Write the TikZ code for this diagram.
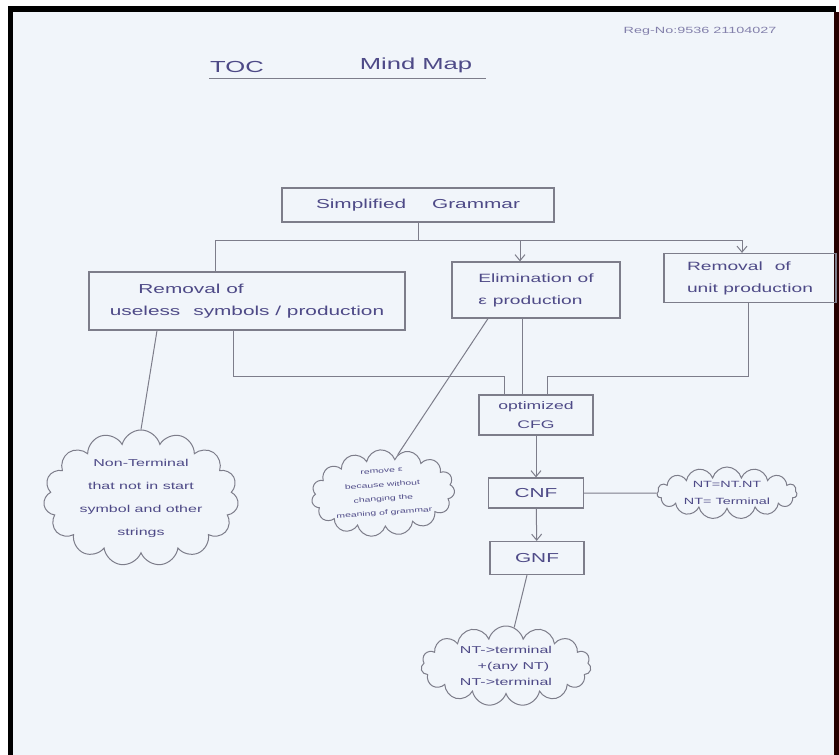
\documentclass[tikz,border=0pt]{standalone}
\usepackage{fontspec}
\newfontfamily\hand[FakeStretch=1.6]{Liberation Sans}
\usetikzlibrary{shapes.symbols,arrows.meta}
\definecolor{ink}{RGB}{78,74,135}
\definecolor{pencil}{RGB}{125,125,138}
\definecolor{paper}{RGB}{241,245,250}
\tikzset{
  box/.style={draw=pencil, line width=1.2pt, inner sep=0pt, text=ink,
    font=\hand\fontsize{13}{22}\selectfont},
  bubble/.style={cloud, cloud puffs=15, cloud ignores aspect, draw=pencil,
    line width=1pt, text=ink, align=center, inner sep=0pt},
  link/.style={draw=pencil, line width=1pt},
  flow/.style={link, -{Straight Barb[length=6pt,width=10pt]}},
}
\begin{document}
\begin{tikzpicture}[x=1pt, y=-1pt]
% sheet and photo frame
\fill[white] (0,0) rectangle (839,755);
\fill[paper] (13,12) rectangle (834,755);
\fill[black] (8,6) rectangle (13,755);
\fill[black] (8,6) rectangle (836,12);
\fill[black!75!red!60!black] (834,12) rectangle (839,755);
\useasboundingbox (0,0) rectangle (839,755);

% header
\node[text=ink!70, font=\hand\fontsize{9}{10}\selectfont] (regno) at (700,31) {Reg-No:9536 21104027};
\node[text=ink, font=\hand\fontsize{16}{18}\selectfont] (toc) at (237,67) {TOC};
\node[text=ink, font=\hand\fontsize{16}{18}\selectfont] (mindmap) at (416,65) {Mind Map};
\draw[link] (209,78) -- (486,78);

% boxes
\node[box, minimum width=272pt, minimum height=34pt] (sg) at (418,205) {Simplified\qquad Grammar};
\node[box, minimum width=316pt, minimum height=58pt, align=left] (useless) at (247,301)
  {\hspace{2.2em}Removal of\\useless\quad symbols / production};
\node[box, minimum width=168pt, minimum height=56pt, align=left,
  font=\hand\fontsize{12}{22}\selectfont] (elim) at (536,290)
  {Elimination of\\ε\enspace production};
\node[box, minimum width=172pt, minimum height=49pt, align=left,
  font=\hand\fontsize{12}{22}\selectfont] (unit) at (750,278)
  {Removal\quad of\\unit production};
\node[box, minimum width=114pt, minimum height=40pt, align=center,
  font=\hand\fontsize{11}{19}\selectfont] (opt) at (536,415) {optimized\\CFG};
\node[box, minimum width=95pt, minimum height=30pt] (cnf) at (536,493) {CNF};
\node[box, minimum width=94pt, minimum height=33pt] (gnf) at (537,558) {GNF};

% clouds
\node[bubble, minimum width=195pt, minimum height=115pt,
  font=\hand\fontsize{10}{23}\selectfont] (nonterm) at (141,498)
  {Non-Terminal\\that not in start\\symbol and other\\strings};
\node[bubble, minimum width=138pt, minimum height=82pt, rotate=4,
  font=\hand\fontsize{6.5}{14}\selectfont] (epsnote) at (383,493)
  {remove ε\\because without\\changing the\\meaning of grammar};
\node[bubble, minimum width=140pt, minimum height=52pt,
  font=\hand\fontsize{9}{17}\selectfont] (cnfnote) at (727,493)
  {NT=NT.NT\\NT= Terminal};
\node[bubble, minimum width=170pt, minimum height=80pt,
  font=\hand\fontsize{10}{16}\selectfont] (gnfnote) at (506,666)
  {NT->terminal\\\hspace{1.5em}+(any NT)\\NT->terminal};

% branching from the root
\coordinate (barL) at (215,240);
\coordinate (barM) at (520,240);
\coordinate (barR) at (742,240);
\draw[link] (sg.south) -- (sg.south |- barL);
\draw[link] (barL |- useless.north) -- (barL) -- (barR);
\draw[flow] (barM) -- (barM |- elim.north);
\draw[flow] (barR) -- (barR |- unit.north);

% merging into the optimized grammar
\coordinate (joinL) at (233,376);
\coordinate (inL) at (504,376);
\coordinate (inM) at (522,376);
\coordinate (inR) at (547,376);
\coordinate (joinR) at (748,376);
\draw[link] (joinL |- useless.south) -- (joinL) -- (inL) -- (inL |- opt.north);
\draw[link] (inM |- elim.south) -- (inM |- opt.north);
\draw[link] (joinR |- unit.south) -- (joinR) -- (inR) -- (inR |- opt.north);

% normal forms
\draw[flow] (opt) -- (cnf);
\draw[flow] (cnf) -- (gnf);

% notes
\draw[link] ([xshift=-90pt]useless.south) -- (nonterm.north);
\draw[link] ([xshift=-48pt]elim.south) -- (epsnote.65);
\draw[link] (cnf) -- (cnfnote);
\draw[link] ([xshift=-10pt]gnf.south) -- (gnfnote.78);
\end{tikzpicture}
\end{document}
